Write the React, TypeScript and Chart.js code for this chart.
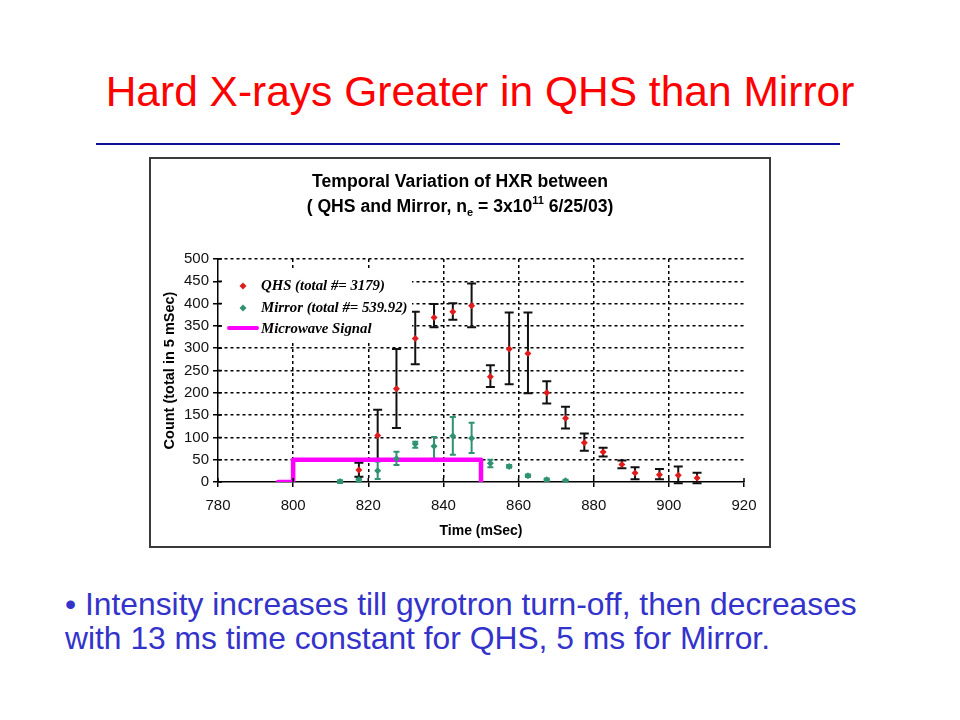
import React, { useEffect, useRef } from "react";
import { Chart, registerables } from "chart.js";

Chart.register(...registerables);

// ---------- data ----------
const qhsTime = [817.5, 822.5, 827.5, 832.5, 837.5, 842.5, 847.5, 852.5, 857.5, 862.5, 867.5, 872.5, 877.5, 882.5, 887.5, 891, 897.5, 902.5, 907.5];
const qhsValue = [27, 104, 209, 322, 369, 382, 395, 236, 298, 288, 200, 143, 88, 67, 39, 20, 16, 15, 9];
const qhsHigh = [43, 162, 298, 382, 399, 401, 445, 262, 380, 380, 226, 169, 109, 77, 48, 33, 29, 35, 21];
const qhsLow = [12, 47, 121, 264, 347, 364, 347, 213, 219, 199, 176, 120, 70, 57, 31, 6, 6, -3, -3];

const mirrorTime = [812.5, 817.5, 822.5, 827.5, 832.5, 837.5, 842.5, 847.5, 852.5, 857.5, 862.5, 867.5, 872.5];
const mirrorValue = [1, 5, 25, 52, 85, 80, 103, 98, 42, 35, 14, 5, 3];
const mirrorHigh = [4, 9, 46, 68, 90, 101, 146, 133, 50, 38, 17, 8, 5];
const mirrorLow = [-2, 1, 7, 38, 77, 52, 61, 65, 33, 32, 11, 2, 1];

const microwaveTime = [796, 800, 800, 850, 850];
const microwaveValue = [0, 0, 50, 50, 0];

const xTickMin = 780;
const xTickMax = 920;
const xTickStep = 20;
const yTickMin = 0;
const yTickMax = 500;
const yTickStep = 50;

const chartTitleLine1 = "Temporal Variation of HXR between";
const legendLabels = ["QHS (total #= 3179)", "Mirror (total #= 539.92)", "Microwave Signal"];

// ---------- styles ----------
const RED = "#e01b1b";
const GREEN = "#2f9272";
const MAGENTA = "#ff00ff";
const SANS = '"Liberation Sans", Arial, sans-serif';
const SERIF = '"Liberation Serif", "Times New Roman", serif';

const errorBarPlugin = {
  id: "errorBars",
  beforeDatasetsDraw(chart: any) {
    const { ctx, scales } = chart;
    const x = scales.x;
    const y = scales.y;
    const drawSet = (ts: number[], lo: number[], hi: number[], color: string, cap: number, width: number) => {
      ctx.save();
      ctx.strokeStyle = color;
      ctx.lineWidth = width;
      ts.forEach((t, i) => {
        const px = x.getPixelForValue(t);
        const pTop = y.getPixelForValue(hi[i]);
        const pBot = y.getPixelForValue(lo[i]);
        ctx.beginPath();
        ctx.moveTo(px, pTop);
        ctx.lineTo(px, pBot);
        ctx.moveTo(px - cap, pTop);
        ctx.lineTo(px + cap, pTop);
        ctx.moveTo(px - cap, pBot);
        ctx.lineTo(px + cap, pBot);
        ctx.stroke();
      });
      ctx.restore();
    };
    drawSet(mirrorTime, mirrorLow, mirrorHigh, GREEN, 3, 2);
    drawSet(qhsTime, qhsLow, qhsHigh, "#111", 4.5, 2);
  },
};

const decorPlugin = {
  id: "decor",
  afterDraw(chart: any) {
    const { ctx, scales, width } = chart;
    const x = scales.x;
    const y = scales.y;
    const area = chart.chartArea;
    ctx.save();
    // inner tick stubs
    ctx.strokeStyle = "#000";
    ctx.lineWidth = 1.5;
    ctx.beginPath();
    x.ticks.forEach((t: any) => {
      const px = x.getPixelForValue(t.value);
      ctx.moveTo(px, area.bottom);
      ctx.lineTo(px, area.bottom - 4);
    });
    y.ticks.forEach((t: any) => {
      const py = y.getPixelForValue(t.value);
      ctx.moveTo(area.left, py);
      ctx.lineTo(area.left + 4, py);
    });
    ctx.stroke();

    // chart title
    const cx = width / 2;
    const main = `bold 17.6px ${SANS}`;
    const small = `bold 11px ${SANS}`;
    ctx.fillStyle = "#000";
    ctx.textBaseline = "middle";
    ctx.textAlign = "center";
    ctx.font = main;
    ctx.fillText(chartTitleLine1, cx, 23);
    const pieces = [
      { t: "( QHS and Mirror, n", f: main, dy: 0 },
      { t: "e", f: small, dy: 6 },
      { t: " = 3x10", f: main, dy: 0 },
      { t: "11", f: small, dy: -6 },
      { t: " 6/25/03)", f: main, dy: 0 },
    ];
    let total = 0;
    pieces.forEach((p) => {
      ctx.font = p.f;
      total += ctx.measureText(p.t).width;
    });
    let sx = cx - total / 2;
    ctx.textAlign = "left";
    pieces.forEach((p) => {
      ctx.font = p.f;
      ctx.fillText(p.t, sx, 48 + p.dy);
      sx += ctx.measureText(p.t).width;
    });

    // legend
    ctx.fillStyle = "#fff";
    ctx.fillRect(71, 109, 190, 72);
    const rows = [127, 149, 170];
    const diamond = (cxp: number, cyp: number, color: string) => {
      ctx.fillStyle = color;
      ctx.beginPath();
      ctx.moveTo(cxp, cyp - 3.5);
      ctx.lineTo(cxp + 3.5, cyp);
      ctx.lineTo(cxp, cyp + 3.5);
      ctx.lineTo(cxp - 3.5, cyp);
      ctx.closePath();
      ctx.fill();
    };
    diamond(92, rows[0], RED);
    diamond(92, rows[1], GREEN);
    ctx.strokeStyle = MAGENTA;
    ctx.lineWidth = 4;
    ctx.lineCap = "round";
    ctx.beginPath();
    ctx.moveTo(78, rows[2] - 1);
    ctx.lineTo(106, rows[2] - 1);
    ctx.stroke();
    ctx.fillStyle = "#000";
    ctx.font = `italic bold 14.8px ${SERIF}`;
    ctx.textAlign = "left";
    ctx.textBaseline = "middle";
    legendLabels.forEach((l, i) => ctx.fillText(l, 110, rows[i]));
    ctx.restore();
  },
};

export default function App() {
  const ref = useRef<HTMLCanvasElement | null>(null);

  useEffect(() => {
    if (!ref.current) return;
    const chart = new Chart(ref.current, {
      type: "scatter",
      data: {
        datasets: [
          {
            label: legendLabels[0],
            data: qhsTime.map((t, i) => ({ x: t, y: qhsValue[i] })),
            pointStyle: "rectRot",
            pointRadius: 3.5,
            backgroundColor: RED,
            borderColor: RED,
            borderWidth: 0,
          },
          {
            label: legendLabels[1],
            data: mirrorTime.map((t, i) => ({ x: t, y: mirrorValue[i] })),
            pointStyle: "rectRot",
            pointRadius: 3.5,
            backgroundColor: GREEN,
            borderColor: GREEN,
            borderWidth: 0,
          },
          {
            type: "line",
            label: legendLabels[2],
            data: microwaveTime.map((t, i) => ({ x: t, y: microwaveValue[i] })),
            borderColor: MAGENTA,
            backgroundColor: MAGENTA,
            borderWidth: 4.5,
            pointRadius: 0,
            showLine: true,
            tension: 0,
            borderJoinStyle: "round",
            borderCapStyle: "round",
          } as any,
        ],
      },
      options: {
        animation: false,
        responsive: false,
        devicePixelRatio: 1,
        layout: { padding: { left: 0, top: 100, right: 25, bottom: 0 } },
        plugins: {
          legend: { display: false },
          title: { display: false },
          tooltip: { enabled: false },
        },
        scales: {
          x: {
            type: "linear",
            min: xTickMin,
            max: xTickMax,
            afterFit: (s: any) => {
              s.height = 64;
            },
            ticks: {
              stepSize: xTickStep,
              color: "#111",
              font: { family: SANS, size: 15 },
              padding: 10,
            },
            grid: {
              color: (c: any) =>
                c.tick && (c.tick.value === xTickMin || c.tick.value === xTickMax) ? "rgba(0,0,0,0)" : "#000",
              lineWidth: 1.5,
              tickColor: "#000",
              tickLength: 5,
              tickWidth: 1.5,
            },
            border: { display: true, color: "#000", width: 1.5, dash: [3, 3] },
            title: {
              display: true,
              text: "Time (mSec)",
              color: "#000",
              font: { family: SANS, size: 14, weight: "bold" },
              padding: { top: 0, bottom: 6 },
            },
          },
          y: {
            type: "linear",
            min: yTickMin,
            max: yTickMax,
            afterFit: (s: any) => {
              s.width = 67;
            },
            ticks: {
              stepSize: yTickStep,
              color: "#111",
              font: { family: SANS, size: 15 },
              padding: 4,
            },
            grid: {
              color: (c: any) => (c.tick && c.tick.value === yTickMin ? "rgba(0,0,0,0)" : "#000"),
              lineWidth: 1.5,
              tickColor: "#000",
              tickLength: 5,
              tickWidth: 1.5,
            },
            border: { display: true, color: "#000", width: 1.5, dash: [3, 3] },
            title: {
              display: true,
              text: "Count (total in 5 mSec)",
              color: "#000",
              font: { family: SANS, size: 14.5, weight: "bold" },
              padding: { top: 10, bottom: 0 },
            },
          },
        },
      } as any,
      plugins: [errorBarPlugin, decorPlugin],
    });
    return () => chart.destroy();
  }, []);

  return (
    <div
      style={{
        position: "absolute",
        left: 0,
        top: 0,
        width: 960,
        height: 720,
        background: "#fff",
        overflow: "hidden",
      }}
    >
      <div
        style={{
          position: "absolute",
          left: 0,
          top: 71,
          width: 960,
          textAlign: "center",
          fontFamily: SANS,
          fontSize: 42.5,
          lineHeight: "42.5px",
          color: "#f00",
          whiteSpace: "nowrap",
        }}
      >
        Hard X-rays Greater in QHS than Mirror
      </div>
      <div style={{ position: "absolute", left: 96, top: 143, width: 744, height: 1.5, background: "#1010a0" }} />
      <div
        style={{
          position: "absolute",
          left: 149,
          top: 157,
          width: 618,
          height: 387,
          border: "2px solid #3a3a3a",
        }}
      />
      <canvas
        ref={ref}
        width={618}
        height={387}
        style={{ position: "absolute", left: 151, top: 159, width: 618, height: 387 }}
      />
      <div
        style={{
          position: "absolute",
          left: 65,
          top: 587,
          fontFamily: SANS,
          fontSize: 31.8,
          lineHeight: "34px",
          color: "#3333cc",
          whiteSpace: "pre",
        }}
      >
        {"• Intensity increases till gyrotron turn-off, then decreases\nwith 13 ms time constant for QHS, 5 ms for Mirror."}
      </div>
    </div>
  );
}
